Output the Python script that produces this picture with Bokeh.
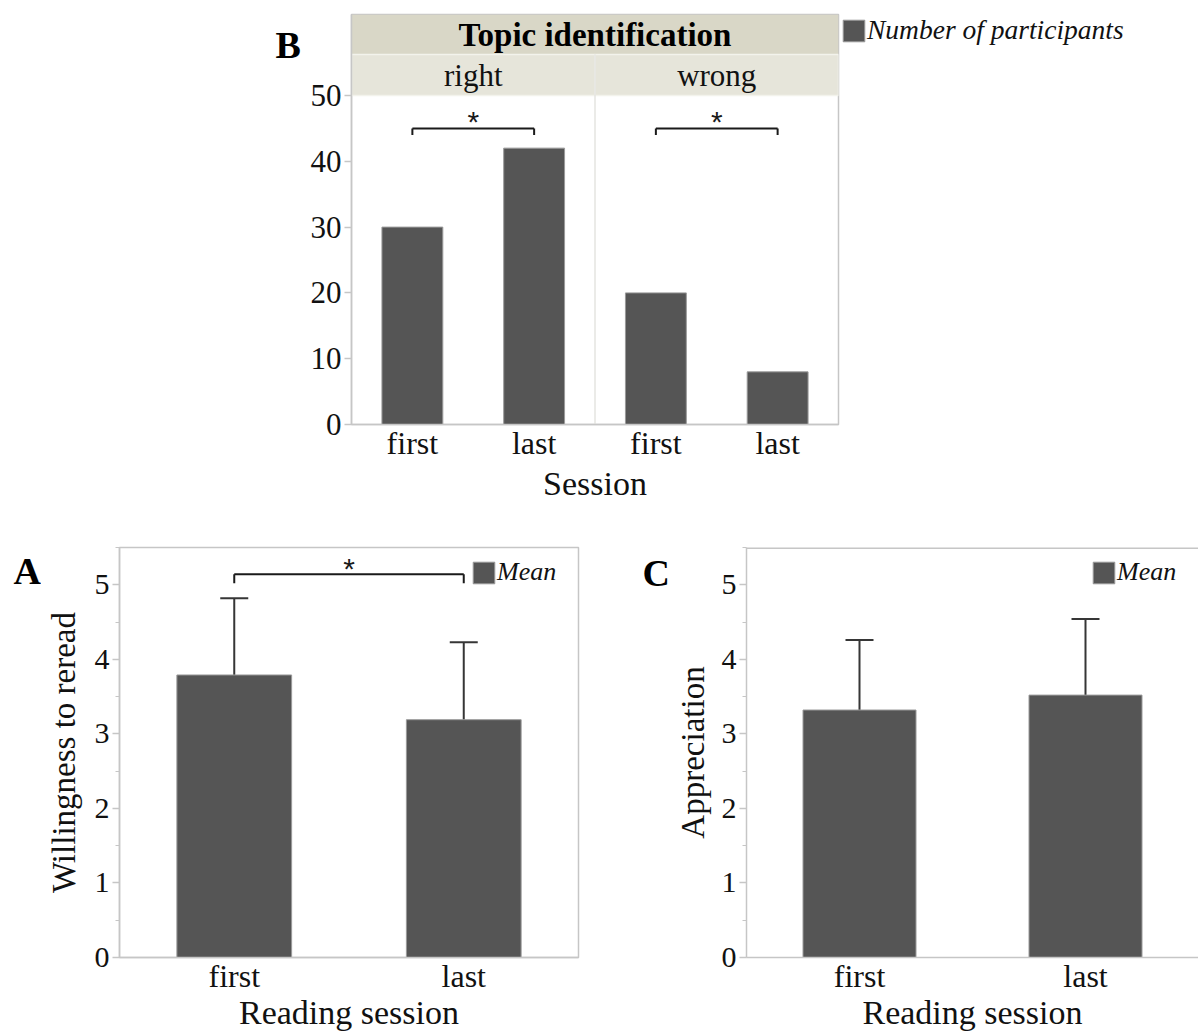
from bokeh.plotting import figure
from bokeh.models import (ColumnDataSource, FactorRange, Whisker, TeeHead, Legend, LegendItem,
                          SingleIntervalTicker, FixedTicker, Span, Range1d)
from bokeh.layouts import row
from bokeh.embed import file_html
from bokeh.resources import INLINE
from bokeh.core.properties import value

# ---------------- data ----------------
topics = ["right", "wrong"]
sessions = ["first", "last"]
participants = [30, 42, 20, 8]          # right/first, right/last, wrong/first, wrong/last
b_ticks = [0, 10, 20, 30, 40, 50]

reading_sessions = ["first", "last"]
willingness_mean = [3.79, 3.19]
willingness_upper = [4.82, 4.23]
willingness_lower = [2.75, 2.13]
appreciation_mean = [3.32, 3.52]
appreciation_upper = [4.26, 4.54]
appreciation_lower = [2.38, 2.50]

# ---------------- style ----------------
FONT = "Liberation Serif"
STAR_FONT = "Liberation Sans"
BAR = "#555555"
BAR_LINE = "#9a9a9a"
AXIS = "#c6c6c6"
ERR = "#363636"
TXT = "#111111"
INK = "#1a1a1a"
HEAD1 = "#d9d7c7"
HEAD2 = "#e6e5da"


def style_axes(p, minor, ylab_standoff=11):
    p.xgrid.visible = False
    p.ygrid.visible = False
    for ax in p.yaxis:
        ax.axis_line_color = AXIS
        ax.axis_line_width = 1.5
        ax.major_tick_line_color = AXIS
        ax.major_tick_line_width = 1.5
        ax.major_tick_out = 7
        ax.major_tick_in = 0
        ax.minor_tick_line_color = AXIS if minor else None
        ax.minor_tick_out = 4
        ax.minor_tick_in = 0
        ax.major_label_standoff = 3
        ax.major_label_text_font = FONT
        ax.major_label_text_font_size = "30px"
        ax.major_label_text_color = TXT
        ax.axis_label_text_font = FONT
        ax.axis_label_text_font_size = "33px"
        ax.axis_label_text_font_style = "normal"
        ax.axis_label_text_color = TXT
        ax.axis_label_standoff = ylab_standoff
    for ax in p.xaxis:
        ax.axis_line_color = AXIS
        ax.axis_line_width = 1.5
        ax.major_tick_line_color = None
        ax.minor_tick_line_color = None
        ax.major_tick_out = 0
        ax.major_label_standoff = 0
        ax.major_label_text_font = FONT
        ax.major_label_text_font_size = "32px"
        ax.major_label_text_color = TXT
        ax.axis_label_text_font = FONT
        ax.axis_label_text_font_size = "34px"
        ax.axis_label_text_font_style = "normal"
        ax.axis_label_text_color = TXT
        ax.axis_label_standoff = -3
    p.outline_line_color = AXIS
    p.outline_line_width = 1.5


def blank(width, height, x0, x1, ytop, ybot, border_top, border_bottom):
    """A figure whose frame spans its full width; data units are page pixels."""
    p = figure(width=width, height=height, x_range=Range1d(x0, x1), y_range=Range1d(ybot, ytop),
               min_border_left=0, min_border_right=0, min_border_top=border_top,
               min_border_bottom=border_bottom, toolbar_location=None, output_backend="svg",
               x_axis_location=None, y_axis_location=None)
    p.xgrid.visible = False
    p.ygrid.visible = False
    p.outline_line_color = None
    return p


def letter(p, text, x, y):
    p.text(x=[x], y=[y], text=[text], text_font=value(FONT), text_font_style="bold",
           text_font_size="38px", text_color="#000000", text_baseline="alphabetic",
           text_align="left")


def style_legend(lg, size="26px"):
    lg.padding = 0
    lg.glyph_width = 27
    lg.glyph_height = 27
    lg.label_standoff = 0
    lg.label_text_font = FONT
    lg.label_text_font_style = "italic"
    lg.label_text_font_size = size
    lg.label_text_color = TXT
    lg.border_line_color = None
    lg.background_fill_alpha = 0


# ================= top row: panel B =================
TOP_H = 520
B_TOP, B_BOTTOM = 14, 424          # page y of the frame (header included)
B_LEFT_W, B_BL, B_FW, B_BR = 301, 50, 487, 2
B_YMAX = 62.31                     # data value at the top of the header
B_SUB = 56.23                      # boundary between the two header rows

left_b = blank(B_LEFT_W, TOP_H, 0, B_LEFT_W, B_TOP, B_BOTTOM, B_TOP, TOP_H - B_BOTTOM)
letter(left_b, "B", 275, 44.5)

b_factors = [(t, s) for t in topics for s in sessions]
bsrc = ColumnDataSource(dict(x=b_factors, n=participants))
bf = figure(width=B_BL + B_FW + B_BR, height=TOP_H,
            x_range=FactorRange(*b_factors, range_padding=0, factor_padding=0, group_padding=0),
            y_range=(0, B_YMAX), min_border_left=B_BL, min_border_right=B_BR,
            min_border_top=B_TOP, min_border_bottom=TOP_H - B_BOTTOM,
            toolbar_location=None, output_backend="svg", x_axis_label="Session")
bf.vbar(x="x", top="n", width=0.5, source=bsrc, fill_color=BAR, line_color=BAR_LINE, line_width=1)
bf.yaxis.ticker = FixedTicker(ticks=b_ticks)
style_axes(bf, minor=False)
bf.yaxis.major_label_text_font_size = "31px"
bf.xaxis.group_text_color = None
bf.xaxis.group_text_font_size = "4px"
bf.xaxis.separator_line_color = None
bf.xaxis.major_tick_out = 6
bf.xaxis.major_label_standoff = -6
bf.xaxis.axis_label_standoff = 1

# header: title row + facet row
n_all = len(b_factors)
bf.quad(left=[0], right=[n_all], bottom=[B_SUB], top=[B_YMAX], fill_color=HEAD1, line_color=None)
bf.vbar(x=topics, width=len(sessions), bottom=max(b_ticks), top=B_SUB,
        fill_color=HEAD2, line_color="#f3f3ec", line_width=1.5)
bf.text(x=topics, y=[(B_SUB + max(b_ticks)) / 2] * len(topics), text=topics, text_font=value(FONT),
        text_font_size="31px", text_align="center", text_baseline="middle", text_color=TXT)
bf.text(x=[n_all / 2], y=[(B_SUB + B_YMAX) / 2], text=["Topic identification"],
        text_font=value(FONT), text_font_style="bold", text_font_size="33px",
        text_align="center", text_baseline="middle", text_color="#000000")
# facet divider through plot area and facet row
bf.segment(x0=[len(sessions)], y0=[0], x1=[len(sessions)], y1=[B_SUB], line_color="#e4e4e0",
           line_width=1.5)

# significance brackets in B
bx0 = [(t, sessions[0]) for t in topics]
bx1 = [(t, sessions[-1]) for t in topics]
b_h, b_drop = 45.0, 1.0
bf.segment(x0=bx0, y0=[b_h] * 2, x1=bx1, y1=[b_h] * 2, line_color=INK, line_width=2)
bf.segment(x0=bx0, y0=[b_h] * 2, x1=bx0, y1=[b_h - b_drop] * 2, line_color=INK, line_width=2)
bf.segment(x0=bx1, y0=[b_h] * 2, x1=bx1, y1=[b_h - b_drop] * 2, line_color=INK, line_width=2)
star_x = [i * len(sessions) + len(sessions) / 2 for i in range(len(topics))]
bf.text(x=star_x, y=[b_h + 1.1] * 2, text=["*"] * 2, text_font=value(STAR_FONT), text_font_size="30px",
        text_align="center", text_baseline="alphabetic", text_color=INK)

RIGHT_X0 = B_LEFT_W + B_BL + B_FW + B_BR
right_b = blank(1198 - RIGHT_X0, TOP_H, RIGHT_X0, 1198, B_TOP, B_BOTTOM, B_TOP, TOP_H - B_BOTTOM)
swatch = right_b.vbar(x=[RIGHT_X0], top=[B_BOTTOM], bottom=[B_BOTTOM], width=0,
                      fill_color=BAR, line_color=BAR_LINE)
bleg = Legend(items=[LegendItem(label="Number of participants", renderers=[swatch])],
              location="top_left", margin=0)
style_legend(bleg, "27.5px")
bleg.padding = 5
right_b.add_layout(bleg)

top_row = row(left_b, bf, right_b)

# ================= bottom row: panels A and C =================
BOT_H = 513
F_TOP, F_BOTTOM = 547, 957        # page y of frames (bottom row starts at page y 520)


def bar_panel(width, left, right, ylabel, mean, upper, lower, full_outline, ylab_standoff):
    src = ColumnDataSource(dict(x=reading_sessions, mean=mean, upper=upper, lower=lower))
    p = figure(width=width, height=BOT_H,
               x_range=FactorRange(*reading_sessions, range_padding=0, factor_padding=0),
               y_range=(0, 5.5), min_border_left=left, min_border_right=right,
               min_border_top=F_TOP - TOP_H, min_border_bottom=BOT_H - (F_BOTTOM - TOP_H),
               toolbar_location=None, output_backend="svg",
               x_axis_label="Reading session", y_axis_label=ylabel)
    p.vbar(x="x", top="mean", width=0.5, source=src, fill_color=BAR, line_color=BAR_LINE,
           line_width=1, legend_label="Mean")
    p.add_layout(Whisker(source=src, base="x", upper="upper", lower="lower", line_color=ERR,
                         line_width=2,
                         upper_head=TeeHead(size=28, line_color=ERR, line_width=2),
                         lower_head=TeeHead(size=28, line_color=ERR, line_width=2)))
    p.yaxis.ticker = SingleIntervalTicker(interval=1, num_minor_ticks=2)
    style_axes(p, minor=True, ylab_standoff=ylab_standoff)
    if not full_outline:
        p.outline_line_color = None
        p.add_layout(Span(location=p.y_range.end, dimension="width", line_color=AXIS,
                          line_width=3))
    lg = p.legend[0]
    lg.location = "top_right"
    lg.margin = 10
    style_legend(lg)
    lg.label_width = 71
    return p


let_a = blank(41, BOT_H, 0, 41, F_TOP, F_BOTTOM, F_TOP - TOP_H, BOT_H - (F_BOTTOM - TOP_H))
letter(let_a, "A", 13, 570)

fa = bar_panel(599, 78, 62, "Willingness to reread", willingness_mean, willingness_upper,
               willingness_lower, True, 10)
# significance bracket in A
a_h, a_drop = 5.14, 0.12
fa.segment(x0=[reading_sessions[0]], y0=[a_h], x1=[reading_sessions[-1]], y1=[a_h],
           line_color=INK, line_width=2)
fa.segment(x0=[reading_sessions[0], reading_sessions[-1]], y0=[a_h, a_h],
           x1=[reading_sessions[0], reading_sessions[-1]], y1=[a_h - a_drop, a_h - a_drop],
           line_color=INK, line_width=2)
fa.text(x=[len(reading_sessions) / 2], y=[a_h + 0.075], text=["*"], text_font=value(STAR_FONT),
        text_font_size="30px", text_align="center", text_baseline="alphabetic", text_color=INK)

let_c = blank(30, BOT_H, 640, 670, F_TOP, F_BOTTOM, F_TOP - TOP_H, BOT_H - (F_BOTTOM - TOP_H))
letter(let_c, "C", 642, 572)

fc = bar_panel(528, 76, 0, "Appreciation", appreciation_mean, appreciation_upper,
               appreciation_lower, False, 8)

bottom_row = row(let_a, fa, let_c, fc)

open("out.html", "w").write(file_html([top_row, bottom_row], INLINE))
